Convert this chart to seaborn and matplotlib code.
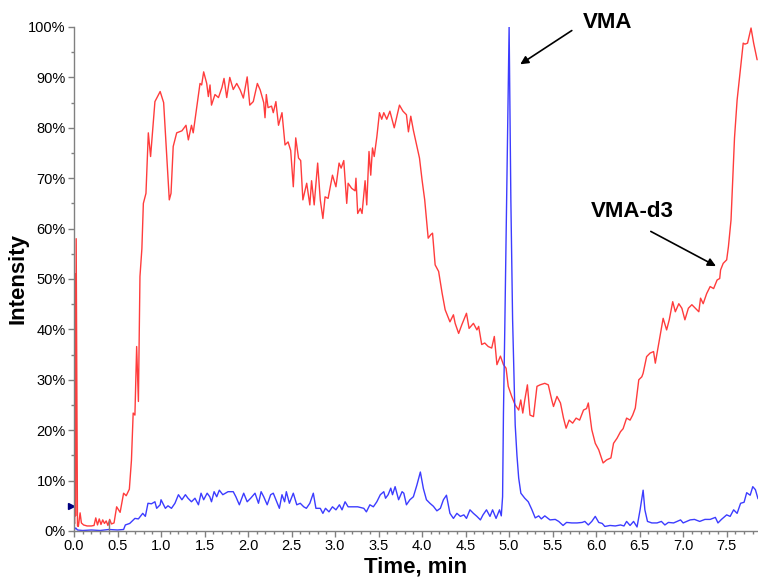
import numpy as np
import pandas as pd
import matplotlib
matplotlib.use('Agg')
import matplotlib.pyplot as plt
import matplotlib.ticker as mticker
import seaborn as sns

# VMA-d3 trace (red), time in min, intensity in %
red_t = [0.00, 0.008, 0.012, 0.018, 0.025, 0.04, 0.05, 0.07, 0.085, 0.11, 0.15, 0.20, 0.23, 0.25, 0.27,
         0.29, 0.31, 0.33, 0.35, 0.37, 0.39, 0.41, 0.43, 0.46, 0.49, 0.53, 0.57, 0.60, 0.636, 0.66,
         0.68, 0.70, 0.72, 0.74, 0.758, 0.78, 0.797, 0.827, 0.854, 0.88, 0.93, 0.99, 1.03, 1.057, 1.095,
         1.115, 1.14, 1.18, 1.24, 1.287, 1.314, 1.35, 1.37, 1.41, 1.448, 1.467, 1.49, 1.525, 1.544, 1.563,
         1.58, 1.62, 1.66, 1.70, 1.724, 1.755, 1.79, 1.83, 1.87, 1.91, 1.946, 1.99, 2.02, 2.06, 2.107,
         2.14, 2.18, 2.195, 2.21, 2.23, 2.27, 2.29, 2.32, 2.35, 2.39, 2.425, 2.46, 2.49, 2.52, 2.548,
         2.58, 2.605, 2.63, 2.674, 2.71, 2.73, 2.76, 2.80, 2.83, 2.86, 2.885, 2.92, 2.97, 3.01, 3.046,
         3.07, 3.10, 3.134, 3.15, 3.19, 3.23, 3.24, 3.26, 3.29, 3.31, 3.345, 3.364, 3.39, 3.41, 3.43,
         3.45, 3.48, 3.51, 3.536, 3.56, 3.594, 3.63, 3.68, 3.71, 3.74, 3.78, 3.82, 3.843, 3.87, 3.90,
         3.94, 3.97, 4.00, 4.03, 4.07, 4.10, 4.12, 4.15, 4.19, 4.23, 4.265, 4.32, 4.36, 4.38, 4.42,
         4.456, 4.51, 4.54, 4.59, 4.63, 4.65, 4.685, 4.72, 4.76, 4.80, 4.83, 4.86, 4.90, 4.935, 4.965,
         4.99, 5.03, 5.07, 5.11, 5.134, 5.157, 5.18, 5.21, 5.24, 5.28, 5.32, 5.356, 5.41, 5.45, 5.49,
         5.51, 5.55, 5.59, 5.625, 5.655, 5.69, 5.73, 5.77, 5.81, 5.855, 5.89, 5.91, 5.95, 5.99, 6.03,
         6.08, 6.12, 6.17, 6.20, 6.24, 6.28, 6.31, 6.35, 6.39, 6.42, 6.45, 6.49, 6.525, 6.54, 6.58,
         6.62, 6.66, 6.68, 6.72, 6.74, 6.77, 6.81, 6.84, 6.88, 6.91, 6.95, 6.985, 7.02, 7.06, 7.10,
         7.14, 7.18, 7.20, 7.23, 7.27, 7.31, 7.35, 7.39, 7.42, 7.43, 7.46, 7.50, 7.52, 7.55, 7.57,
         7.59, 7.62, 7.66, 7.69, 7.71, 7.74, 7.78, 7.81, 7.85]
red_v = [1.8, 1.5, 51, 3, 58, 1.0, 0.9, 3.6, 1.6, 1.2, 1.0, 1.0, 1.1, 2.6, 1.2,
         2.4, 1.3, 2.2, 1.5, 2.0, 1.1, 2.3, 1.4, 1.6, 4.8, 3.7, 7.5, 7.0, 8.3, 14,
         23.4, 23.0, 36.6, 25.7, 50.5, 56, 65, 67, 79, 74.3, 85.2, 87.2, 85, 77, 65.7,
         67, 76.3, 79, 79.4, 80.5, 77.6, 80.5, 79, 84, 88.8, 88.5, 91.1, 88.8, 86.2, 88.5,
         84.5, 86.6, 86, 88, 89.8, 86, 90, 87.6, 88.8, 87.5, 85.9, 90.1, 84.5, 85.2, 88.8,
         87.5, 85, 82, 86.6, 84, 84.3, 83, 85.2, 80.5, 83, 76.6, 77.2, 75.5, 68.3, 78,
         74, 73.5, 65.7, 69, 64.7, 69.5, 64.7, 73, 65.7, 62, 66.3, 66, 70.6, 68.3, 73,
         72, 73.5, 65, 69, 68, 67.5, 70, 63, 64, 63, 69.5, 64.7, 75.3, 70.6, 76,
         74.3, 78.2, 83, 81.7, 83, 81.7, 83.3, 80, 82.3, 84.5, 83.3, 82.6, 79.2, 82.3, 79.5,
         76.3, 74, 69.6, 65.7, 58.1, 58.8, 59.1, 52.8, 51.5, 47.2, 43.9, 41.5, 42.9, 41.2, 39.2,
         40.9, 43.2, 40.2, 41.2, 39.9, 40.6, 37, 37.3, 36.6, 36.3, 38.6, 33, 34.7, 33, 32.3,
         28.7, 26.7, 25, 24, 26, 23.4, 26, 29, 23, 22.7, 28.7, 29, 29.3, 29, 26,
         24.7, 26.7, 25.4, 22.4, 20.4, 22, 21.4, 22.4, 22, 24, 24.3, 25.4, 20.1, 17.4, 16.1,
         13.5, 14.1, 14.5, 17.4, 18.4, 19.7, 20.3, 22.4, 22, 23, 24.4, 30, 30.6, 31.3, 34.6,
         35.3, 35.6, 33.3, 37.2, 39.2, 42.2, 39.9, 41.9, 45.5, 43.5, 45.1, 44.2, 41.9, 44.2, 44.9,
         44.2, 43.5, 46.2, 45.1, 47.1, 48.5, 48.1, 49.8, 50.1, 51.8, 53.1, 53.8, 56.4, 61.7, 69.6,
         78, 85.5, 92, 96.8, 96.6, 96.8, 99.8, 96.8, 93.5]

# VMA trace (blue)
blue_t = [0.00, 0.02, 0.04, 0.10, 0.20, 0.30, 0.40, 0.50, 0.57, 0.59, 0.64, 0.70, 0.74, 0.79, 0.82,
          0.85, 0.89, 0.93, 0.95, 0.99, 1.00, 1.05, 1.08, 1.12, 1.16, 1.20, 1.24, 1.28, 1.31, 1.35,
          1.39, 1.43, 1.46, 1.49, 1.53, 1.56, 1.58, 1.61, 1.64, 1.67, 1.71, 1.74, 1.77, 1.83, 1.86,
          1.90, 1.95, 1.99, 2.03, 2.08, 2.12, 2.15, 2.18, 2.22, 2.26, 2.29, 2.32, 2.36, 2.39, 2.42,
          2.44, 2.475, 2.52, 2.56, 2.60, 2.64, 2.67, 2.71, 2.75, 2.78, 2.83, 2.86, 2.89, 2.93, 2.97,
          3.01, 3.05, 3.08, 3.115, 3.15, 3.19, 3.26, 3.33, 3.36, 3.40, 3.44, 3.48, 3.52, 3.56, 3.58,
          3.61, 3.64, 3.66, 3.69, 3.73, 3.77, 3.79, 3.82, 3.86, 3.90, 3.94, 3.98, 4.015, 4.05, 4.09,
          4.13, 4.17, 4.21, 4.245, 4.28, 4.32, 4.36, 4.40, 4.44, 4.48, 4.51, 4.55, 4.59, 4.63, 4.67,
          4.70, 4.74, 4.78, 4.81, 4.85, 4.89, 4.91, 4.925, 4.935, 4.95, 4.975, 5.00, 5.02, 5.04, 5.07,
          5.09, 5.11, 5.135, 5.18, 5.22, 5.26, 5.30, 5.34, 5.37, 5.41, 5.47, 5.53, 5.57, 5.62, 5.66,
          5.72, 5.78, 5.84, 5.87, 5.91, 5.95, 5.99, 6.03, 6.07, 6.10, 6.16, 6.22, 6.28, 6.32, 6.35,
          6.39, 6.43, 6.47, 6.505, 6.54, 6.56, 6.59, 6.64, 6.70, 6.75, 6.79, 6.83, 6.89, 6.93, 6.97,
          7.00, 7.04, 7.08, 7.13, 7.19, 7.25, 7.31, 7.37, 7.40, 7.44, 7.50, 7.54, 7.58, 7.62, 7.66,
          7.70, 7.73, 7.77, 7.80, 7.83, 7.86]
blue_v = [0.2, 0.6, 0.2, 0.1, 0.2, 0.1, 0.3, 0.2, 0.3, 1.2, 1.5, 2.5, 2.4, 3.5, 2.9,
          5.5, 5.4, 5.8, 4.5, 5.2, 6.2, 4.5, 5.0, 4.5, 5.5, 7.2, 6.2, 7.2, 6.5, 5.8,
          6.5, 5.2, 7.5, 6.2, 7.5, 6.8, 5.8, 7.8, 6.8, 8.1, 7.2, 7.5, 7.8, 7.8, 6.8,
          5.2, 7.5, 5.8, 6.5, 7.5, 5.5, 7.8, 6.8, 5.2, 7.2, 7.5, 6.2, 4.5, 7.2, 5.8,
          7.8, 5.5, 7.5, 5.2, 5.5, 4.8, 4.5, 5.5, 7.5, 4.5, 4.5, 3.5, 4.5, 3.8, 4.8,
          4.2, 5.2, 4.2, 5.8, 4.8, 4.8, 4.8, 4.5, 3.8, 5.2, 4.8, 5.8, 7.2, 7.8, 6.5,
          7.2, 8.5, 7.2, 8.8, 6.2, 7.8, 7.5, 5.2, 6.2, 6.8, 9.1, 11.7, 8.4, 6.2, 5.5,
          4.9, 4.0, 4.5, 6.2, 7.1, 3.5, 2.5, 3.5, 2.9, 3.2, 2.5, 4.2, 3.5, 2.9, 2.2,
          3.2, 4.2, 2.9, 4.2, 2.5, 4.2, 3.0, 6.8, 23.4, 39.9, 70, 100, 65.7, 42, 21,
          15, 10.5, 7.5, 6.5, 5.8, 4.3, 2.6, 3.0, 2.4, 3.0, 2.2, 2.3, 1.9, 1.1, 1.7,
          1.6, 1.6, 1.7, 1.9, 1.2, 1.9, 2.9, 1.7, 1.5, 0.9, 1.1, 1.0, 1.2, 1.0, 1.9,
          1.1, 1.9, 0.8, 4.2, 8.1, 4.2, 1.9, 1.6, 1.6, 1.9, 1.2, 1.7, 1.6, 1.9, 2.2,
          1.6, 1.9, 2.2, 2.3, 1.9, 2.3, 2.3, 2.7, 1.6, 2.3, 3.2, 2.9, 4.2, 3.5, 5.5,
          5.7, 7.6, 7.1, 8.8, 8.2, 6.4]

# small markers on the axis
threshold_level = 5
marker_time, marker_height = 0.40, 2.2

red_df = pd.DataFrame({'time': red_t, 'intensity': red_v})
blue_df = pd.DataFrame({'time': blue_t, 'intensity': blue_v})

sns.set_style('white')
plt.rcParams['font.family'] = ['Liberation Sans', 'DejaVu Sans']

fig = plt.figure(figsize=(7.58, 5.82), dpi=100)
ax = fig.add_axes([74/758, 51/582, 684/758, 504/582])

sns.lineplot(data=red_df, x='time', y='intensity', color='#ff3c3c', linewidth=1.0, ax=ax)
sns.lineplot(data=blue_df, x='time', y='intensity', color='#3c3cff', linewidth=1.0, ax=ax)

ax.vlines(marker_time, 0, marker_height, color='#808080', linewidth=1)
ax.plot([-0.03], [threshold_level], marker='>', color='#000080', markersize=5, clip_on=False)

ax.set_xlim(0, 7.86)
ax.set_ylim(0, 100)
ax.xaxis.set_major_locator(mticker.MultipleLocator(0.5))
ax.xaxis.set_minor_locator(mticker.MultipleLocator(0.1))
ax.xaxis.set_major_formatter(mticker.FormatStrFormatter('%.1f'))
ax.yaxis.set_major_locator(mticker.MultipleLocator(10))
ax.yaxis.set_minor_locator(mticker.MultipleLocator(5))
ax.yaxis.set_major_formatter(mticker.PercentFormatter(xmax=100, decimals=0))

for side in ['top', 'right']:
    ax.spines[side].set_visible(False)
for side in ['left', 'bottom']:
    ax.spines[side].set_color('#808080')
    ax.spines[side].set_linewidth(1)

ax.tick_params(which='major', direction='out', length=4, width=1, color='#808080',
               labelsize=10.5, labelcolor='black', pad=2, left=True, bottom=True)
ax.tick_params(which='minor', direction='out', length=2, width=1, color='#808080',
               left=True, bottom=True)

ax.set_xlabel('Time, min', fontsize=16, fontweight='bold', color='black', labelpad=2)
ax.set_ylabel('Intensity', fontsize=16, fontweight='bold', color='black', labelpad=0)

# peak labels
ax.text(6.126, 100.8, 'VMA', fontsize=16, fontweight='bold', ha='center', va='center',
        color='black', clip_on=False)
ax.annotate('', xy=(5.101, 92.3), xytext=(5.747, 99.6),
            arrowprops=dict(arrowstyle='-|>', color='black', lw=1.2, mutation_scale=12))
ax.text(6.414, 63.3, 'VMA-d3', fontsize=16, fontweight='bold', ha='center', va='center',
        color='black')
ax.annotate('', xy=(7.405, 52.3), xytext=(6.6, 59.7),
            arrowprops=dict(arrowstyle='-|>', color='black', lw=1.2, mutation_scale=12))

fig.savefig('out.png', dpi=100)
